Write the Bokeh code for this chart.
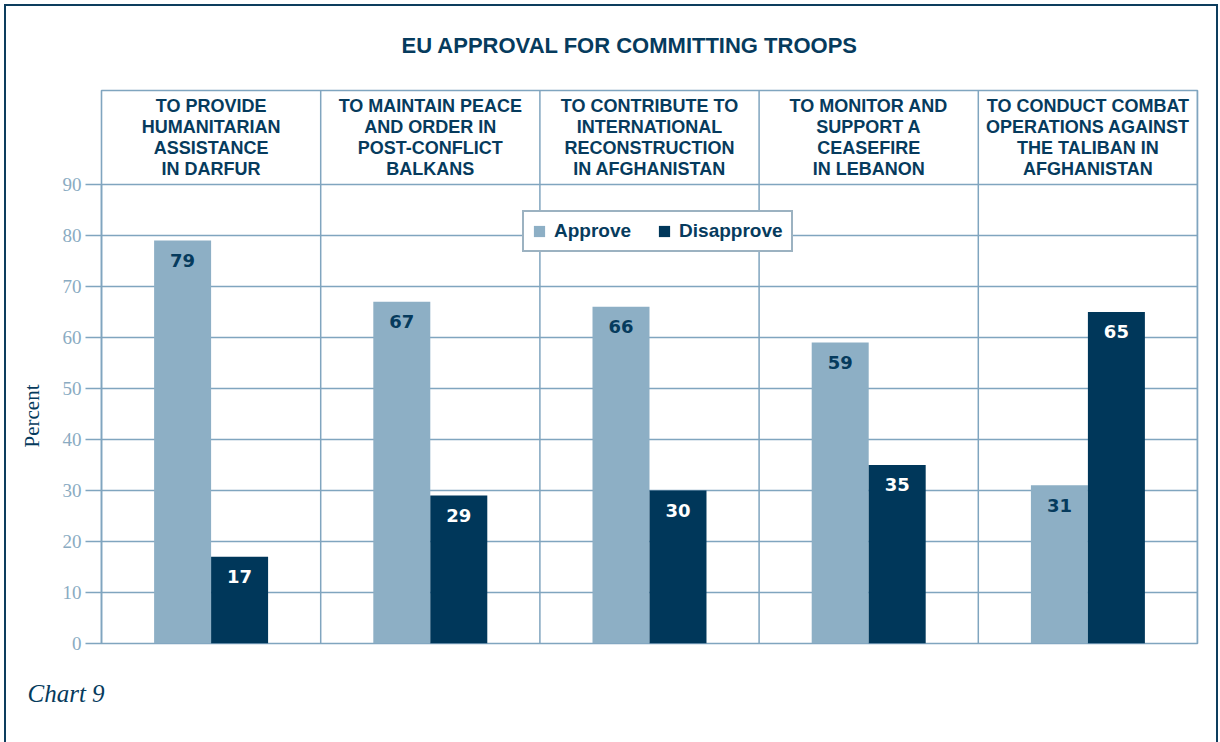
from bokeh.plotting import figure
from bokeh.models import (FactorRange, Range1d, FixedTicker, ColumnDataSource,
                          Title, Legend, LegendItem)
from bokeh.transform import dodge
from bokeh.core.properties import value
from bokeh.embed import file_html
from bokeh.resources import INLINE

# ---- data ----
categories = ["Darfur", "Balkans", "Afghanistan reconstruction", "Lebanon", "Afghanistan combat"]
header_labels = [
    "TO PROVIDE\nHUMANITARIAN\nASSISTANCE\nIN DARFUR",
    "TO MAINTAIN PEACE\nAND ORDER IN\nPOST-CONFLICT\nBALKANS",
    "TO CONTRIBUTE TO\nINTERNATIONAL\nRECONSTRUCTION\nIN AFGHANISTAN",
    "TO MONITOR AND\nSUPPORT A\nCEASEFIRE\nIN LEBANON",
    "TO CONDUCT COMBAT\nOPERATIONS AGAINST\nTHE TALIBAN IN\nAFGHANISTAN",
]
approve = [79, 67, 66, 59, 31]
disapprove = [17, 29, 30, 35, 65]
y_ticks = [0, 10, 20, 30, 40, 50, 60, 70, 80, 90]
series_names = ["Approve", "Disapprove"]
title_text = "EU APPROVAL FOR COMMITTING TROOPS"
footer_text = "Chart 9"
y_label = "Percent"

# ---- styles ----
NAVY = "#063b5d"
DARK = "#00375a"
LIGHT = "#8dafc5"
GRID = "#80a5bf"
TICK_TXT = "#8aabc2"
BOX = "#0d3d5e"
Y_TOP = 108.4

src = ColumnDataSource(dict(
    cat=categories,
    header=header_labels,
    approve=approve,
    disapprove=disapprove,
    approve_txt=[str(v) for v in approve],
    disapprove_txt=[str(v) for v in disapprove],
    top=[Y_TOP] * len(categories),
    zero=[0] * len(categories),
))

p = figure(x_range=FactorRange(factors=categories, range_padding=0),
           y_range=Range1d(0, Y_TOP),
           width=1220, height=742,
           output_backend="svg", toolbar_location=None,
           min_border_left=101, min_border_right=23,
           min_border_top=90, min_border_bottom=99)
# transparent surround so that the page-box frame (CSS background) shows through
p.border_fill_color = None
p.background_fill_color = "white"
line = f"linear-gradient({BOX},{BOX})"
p.styles = {
    "background": (f"{line} 4px 4px / 2px 738px no-repeat, "
                   f"{line} 4px 4px / 1214px 2px no-repeat, "
                   f"{line} 1216px 4px / 2px 738px no-repeat, white"),
}

# grid
p.xgrid.visible = False
p.ygrid.ticker = FixedTicker(ticks=y_ticks)
p.ygrid.grid_line_color = GRID
p.ygrid.grid_line_width = 1.5
p.outline_line_color = GRID
p.outline_line_width = 1.6

# axes
p.xaxis.visible = False
yax = p.yaxis[0]
yax.ticker = FixedTicker(ticks=y_ticks)
yax.bounds = (0, 90)
yax.major_tick_out = 16
yax.major_tick_in = 0
yax.minor_tick_line_color = None
yax.axis_line_color = GRID
yax.axis_line_width = 1.5
yax.major_tick_line_color = GRID
yax.major_tick_line_width = 1.5
yax.major_label_standoff = 4
yax.major_label_text_font = "Liberation Serif"
yax.major_label_text_font_size = "19px"
yax.major_label_text_color = TICK_TXT

# vertical dividers between groups
p.segment(x0=dodge("cat", 0.5, range=p.x_range), y0="zero",
          x1=dodge("cat", 0.5, range=p.x_range), y1="top",
          source=src, line_color=GRID, line_width=1.5)

# bars
r1 = p.vbar(x=dodge("cat", -0.13, range=p.x_range), top="approve", width=0.26,
            source=src, fill_color=LIGHT, line_color=None)
r2 = p.vbar(x=dodge("cat", 0.13, range=p.x_range), top="disapprove", width=0.26,
            source=src, fill_color=DARK, line_color=None)

# value labels
p.text(x=dodge("cat", -0.13, range=p.x_range), y="approve", text="approve_txt",
       source=src, y_offset=20, text_align="center", text_baseline="middle",
       text_color=NAVY, text_font=value("DejaVu Sans"), text_font_style="bold",
       text_font_size="18px")
p.text(x=dodge("cat", 0.13, range=p.x_range), y="disapprove", text="disapprove_txt",
       source=src, y_offset=20, text_align="center", text_baseline="middle",
       text_color="white", text_font=value("DejaVu Sans"), text_font_style="bold",
       text_font_size="18px")

# header labels
p.text(x="cat", y=99.1, text="header", source=src,
       text_align="center", text_baseline="middle", text_line_height=1.05,
       text_color=NAVY, text_font=value("Liberation Sans"), text_font_style="bold",
       text_font_size="18px")

# title
p.title.text = title_text
p.title.align = "left"
p.title.offset = 300
p.title.vertical_align = "middle"
p.title.standoff = 63
p.title.text_color = NAVY
p.title.text_font = "Liberation Sans"
p.title.text_font_style = "bold"
p.title.text_font_size = "22px"

# y label
p.add_layout(Title(text=y_label, align="left", offset=196, vertical_align="middle",
                   standoff=29, text_font="Liberation Serif", text_font_size="21px",
                   text_font_style="normal", text_color=NAVY), "left")

# footer
p.add_layout(Title(text=footer_text, align="left", offset=-74, vertical_align="bottom",
                   standoff=68, text_font="Liberation Serif", text_font_size="25px",
                   text_font_style="italic", text_color=NAVY), "below")

# legend
legend = Legend(items=[LegendItem(label=series_names[0], renderers=[r1]),
                       LegendItem(label=series_names[1], renderers=[r2])],
                location=(421, 391), orientation="horizontal",
                margin=0, padding=8, spacing=26,
                glyph_width=14, glyph_height=14, label_standoff=8,
                label_height=22,
                label_text_font="Liberation Sans", label_text_font_style="bold",
                label_text_font_size="19px", label_text_color=NAVY,
                border_line_color="#3a6583", border_line_width=2,
                background_fill_color="white", background_fill_alpha=1)
p.add_layout(legend, "center")

open("out.html", "w").write(file_html(p, INLINE))
